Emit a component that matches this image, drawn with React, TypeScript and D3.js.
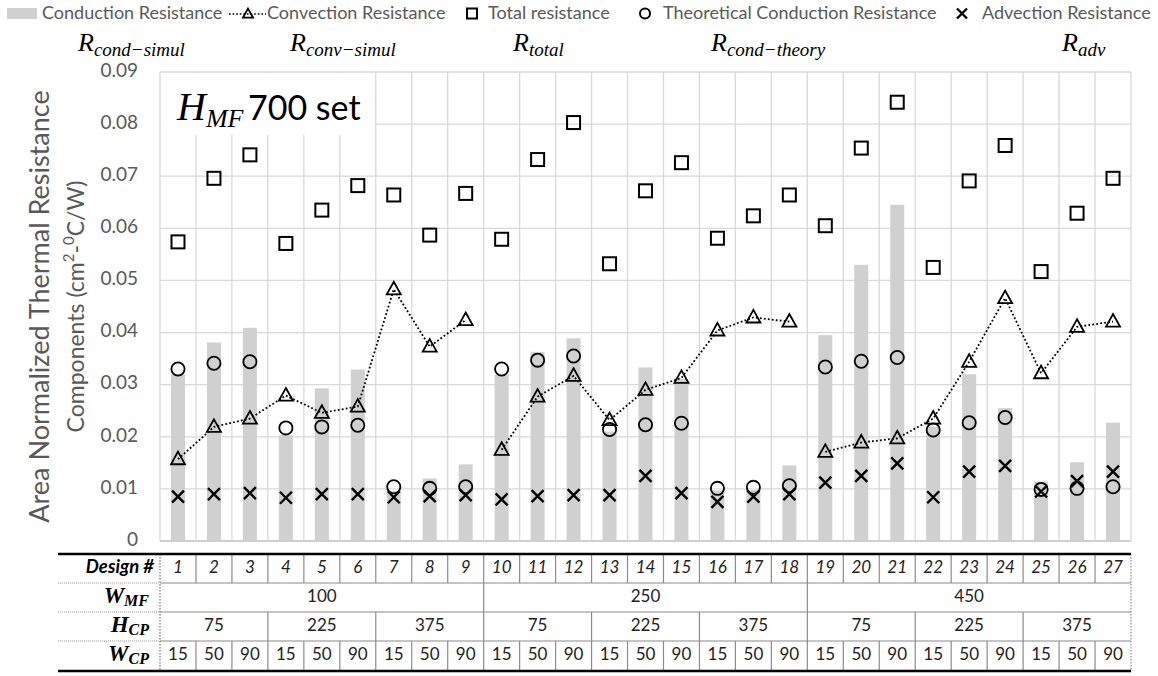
import React from "react";
import * as d3 from "d3";

// values (cm2-C/W)
const designs = d3.range(1, 28).map(String);
const conduction = [
  0.032, 0.0381, 0.0409, 0.0203, 0.0293, 0.0329, 0.0095, 0.012, 0.0147,
  0.0319, 0.0363, 0.0389, 0.021, 0.0333, 0.0311, 0.0097, 0.0098, 0.0145,
  0.0395, 0.053, 0.0645, 0.0219, 0.032, 0.0255, 0.0114, 0.0151, 0.0227,
];
const convection = [
  0.0157, 0.0219, 0.0235, 0.0279, 0.0246, 0.0258, 0.0483, 0.0373, 0.0424,
  0.0175, 0.0277, 0.0317, 0.0232, 0.029, 0.0313, 0.0404, 0.0429, 0.0421,
  0.0171, 0.0189, 0.0197, 0.0235, 0.0344, 0.0466, 0.0322, 0.0411, 0.0421,
];
const total = [
  0.0574, 0.0696, 0.0741, 0.0571, 0.0635, 0.0682, 0.0664, 0.0587, 0.0667,
  0.0579, 0.0732, 0.0803, 0.0532, 0.0672, 0.0726, 0.0581, 0.0624, 0.0664,
  0.0605, 0.0754, 0.0842, 0.0525, 0.0691, 0.0759, 0.0517, 0.0629, 0.0696,
];
const theory = [
  0.033, 0.0341, 0.0344, 0.0217, 0.0219, 0.0222, 0.0104, 0.0101, 0.0104,
  0.033, 0.0347, 0.0355, 0.0214, 0.0223, 0.0226, 0.0101, 0.0103, 0.0106,
  0.0334, 0.0345, 0.0352, 0.0213, 0.0227, 0.0237, 0.0099, 0.0101, 0.0104,
];
const advection = [
  0.0085, 0.009, 0.0092, 0.0083, 0.009, 0.009, 0.0084, 0.0086, 0.0088,
  0.008, 0.0086, 0.0088, 0.0088, 0.0125, 0.0092, 0.0075, 0.0085, 0.009,
  0.0112, 0.0125, 0.0149, 0.0084, 0.0133, 0.0144, 0.0095, 0.0115, 0.0133,
];
const wMF = ["100", "250", "450"];
const hCP = ["75", "225", "375"];
const wCP = ["15", "50", "90"];

const yTicks = d3.range(0, 0.0901, 0.01);

const SANS = "Lato, 'Open Sans', sans-serif";
const SERIF = "'Liberation Serif', 'DejaVu Serif', serif";
const GRAY = "#595959";

const App = () => {
  const width = 1158;
  const height = 676;
  const plot = { left: 160, right: 1131, top: 72, bottom: 541 };
  const table = { left: 58, rows: [554, 583, 612, 641, 671] };

  const x = d3
    .scaleBand<string>()
    .domain(designs)
    .range([plot.left, plot.right]);
  const y = d3.scaleLinear().domain([0, 0.09]).range([plot.bottom, plot.top]);
  const bw = x.bandwidth();
  const cx = (i: number) => (x(designs[i]) as number) + bw / 2;

  // convection line is broken between the three W_MF groups
  const groups = [0, 1, 2].map((g) => d3.range(g * 9, g * 9 + 9));
  const line = d3
    .line<number>()
    .x((i) => cx(i))
    .y((i) => y(convection[i]));

  const rowMid = (r: number) => (table.rows[r] + table.rows[r + 1]) / 2;

  const square = (px: number, py: number, s: number, key?: any) => (
    <rect key={key} x={px - s / 2} y={py - s / 2} width={s} height={s}
      fill="none" stroke="#000" strokeWidth={2} />
  );
  const tri = (px: number, py: number, s: number, key?: any) => {
    const h = s * 0.9;
    return (
      <path key={key}
        d={`M${px},${py - h * 0.6}L${px + s / 2},${py + h * 0.4}L${px - s / 2},${py + h * 0.4}Z`}
        fill="none" stroke="#000" strokeWidth={1.8} />
    );
  };
  const cross = (px: number, py: number, s: number, key?: any) => (
    <path key={key}
      d={`M${px - s / 2},${py - s / 2}L${px + s / 2},${py + s / 2}M${px + s / 2},${py - s / 2}L${px - s / 2},${py + s / 2}`}
      stroke="#000" strokeWidth={2.4} />
  );

  const legendItems = [
    { label: "Conduction Resistance", tx: 42, mark: <rect x={7} y={8} width={30} height={11} fill="#d0d0d0" /> },
    {
      label: "Convection Resistance", tx: 267,
      mark: (
        <g>
          <line x1={229} x2={266} y1={14} y2={14} stroke="#000" strokeWidth={1.6} strokeDasharray="1.6,2" />
          {tri(248, 14, 10)}
        </g>
      ),
    },
    { label: "Total resistance", tx: 488, mark: square(472, 13.5, 10) },
    { label: "Theoretical Conduction Resistance", tx: 663, mark: <circle cx={645} cy={13.5} r={5} fill="none" stroke="#000" strokeWidth={2} /> },
    { label: "Advection Resistance", tx: 982, mark: cross(962, 13.5, 10) },
  ];

  const formulas = [
    { x: 78, sub: "cond−simul" },
    { x: 290, sub: "conv−simul" },
    { x: 513, sub: "total" },
    { x: 711, sub: "cond−theory" },
    { x: 1062, sub: "adv" },
  ];

  const headers = [
    { main: "W", sub: "MF" },
    { main: "H", sub: "CP" },
    { main: "W", sub: "CP" },
  ];

  // spans for table rows 1..3 (in number of columns)
  const rowSpans = [
    { span: 9, labels: wMF },
    { span: 3, labels: hCP },
    { span: 1, labels: wCP },
  ];

  const midY = (plot.top + plot.bottom) / 2;

  return (
    <svg width={width} height={height} style={{ position: "absolute", left: 0, top: 0, background: "#fff" }}>
      {/* legend */}
      {legendItems.map((d) => (
        <g key={d.label}>
          {d.mark}
          <text x={d.tx} y={14} dominantBaseline="middle" fontFamily={SANS} fontSize={18} fill={GRAY}>
            {d.label}
          </text>
        </g>
      ))}

      {/* formula labels */}
      {formulas.map((f) => (
        <text key={f.sub} x={f.x} y={51} fontFamily={SERIF} fontStyle="italic" fontSize={26} fill="#000">
          R<tspan fontSize={19} dy={5}>{f.sub}</tspan>
        </text>
      ))}

      {/* grid */}
      {yTicks.map((t) => (
        <line key={t} x1={plot.left} x2={plot.right} y1={y(t)} y2={y(t)}
          stroke={t === 0 ? "#bfbfbf" : "#d9d9d9"} strokeWidth={1.3} />
      ))}
      {d3.range(designs.length + 1).map((i) => {
        const gx = plot.left + i * bw;
        return <line key={i} x1={gx} x2={gx} y1={plot.top} y2={plot.bottom} stroke="#d9d9d9" strokeWidth={1.3} />;
      })}

      {/* label box */}
      <rect x={161} y={73} width={214} height={62} fill="#fff" />
      <text x={177} y={120} fontFamily={SERIF} fontStyle="italic" fontSize={40} fill="#000">
        H<tspan fontSize={26} dy={7}>MF</tspan>
      </text>
      <text x={248} y={120} fontFamily={SANS} fontSize={34} fill="#000">700 set</text>

      {/* y axis */}
      {yTicks.map((t) => (
        <text key={t} x={138} y={y(t)} textAnchor="end" dominantBaseline="middle"
          fontFamily={SANS} fontSize={19} fill={GRAY}>
          {t === 0 ? "0" : d3.format(".2f")(t)}
        </text>
      ))}
      <g transform={`translate(42,${midY}) rotate(-90)`}>
        <text textAnchor="middle" dominantBaseline="middle" fontFamily={SANS} fontSize={27} fill={GRAY}>
          Area Normalized Thermal Resistance
        </text>
      </g>
      <g transform={`translate(78,${midY}) rotate(-90)`}>
        <text textAnchor="middle" dominantBaseline="middle" fontFamily={SANS} fontSize={23} fill={GRAY}>
          Components (cm<tspan fontSize={15} dy={-8}>2</tspan>
          <tspan dy={8}>-</tspan>
          <tspan fontSize={15} dy={-8}>0</tspan>
          <tspan dy={8}>C/W)</tspan>
        </text>
      </g>

      {/* conduction bars */}
      {conduction.map((v, i) => (
        <rect key={i} x={cx(i) - 7} y={y(v)} width={14} height={y(0) - y(v)} fill="#d0d0d0" />
      ))}

      {/* convection dotted line */}
      {groups.map((g, k) => (
        <path key={k} d={line(g) as string}
          fill="none" stroke="#000" strokeWidth={1.8} strokeDasharray="1.8,2.2" />
      ))}
      {convection.map((v, i) => tri(cx(i), y(v), 14, `t${i}`))}
      {total.map((v, i) => square(cx(i), y(v), 13, `s${i}`))}
      {theory.map((v, i) => (
        <circle key={`c${i}`} cx={cx(i)} cy={y(v)} r={6.6} fill="none" stroke="#000" strokeWidth={1.8} />
      ))}
      {advection.map((v, i) => cross(cx(i), y(v), 12, `x${i}`))}

      {/* table */}
      <g fontFamily={SANS}>
        {/* header column */}
        <text x={154} y={rowMid(0)} textAnchor="end" dominantBaseline="middle" fontSize={18.5}
          fontWeight="bold" fontStyle="italic" fill="#000">
          Design #
        </text>
        {headers.map((h, r) => (
          <text key={r} x={149} y={rowMid(r + 1) + 5} textAnchor="end" fontFamily={SERIF}
            fontWeight="bold" fontStyle="italic" fontSize={23} fill="#000">
            {h.main}<tspan fontSize={16} dy={3}>{h.sub}</tspan>
          </text>
        ))}
        {table.rows.slice(1, 4).map((ry) => (
          <line key={ry} x1={table.left} x2={plot.left} y1={ry} y2={ry} stroke="#999" strokeWidth={1} strokeDasharray="1,1" />
        ))}
        <line x1={plot.left} x2={plot.left} y1={table.rows[0]} y2={table.rows[4]} stroke="#555" strokeWidth={1} strokeDasharray="1.5,1.5" />
        <line x1={plot.right} x2={plot.right} y1={table.rows[0]} y2={table.rows[4]} stroke="#777" strokeWidth={1} strokeDasharray="1.5,1.5" />

        {/* inner horizontal lines */}
        {table.rows.slice(1, 4).map((ry) => (
          <line key={ry} x1={plot.left} x2={plot.right} y1={ry} y2={ry} stroke="#8c8c8c" strokeWidth={1.2} />
        ))}

        {/* design numbers */}
        {designs.map((d, i) => (
          <g key={d}>
            {i > 0 && (
              <line x1={x(d)} x2={x(d)} y1={table.rows[0]} y2={table.rows[1]} stroke="#8c8c8c" strokeWidth={1.2} />
            )}
            <text x={cx(i)} y={rowMid(0)} textAnchor="middle" dominantBaseline="middle" fontSize={17}
              fontStyle="italic" fill="#222">
              {d}
            </text>
          </g>
        ))}

        {/* grouped rows */}
        {rowSpans.map((rs, r) =>
          d3.range(designs.length / rs.span).map((k) => {
            const x0 = plot.left + k * rs.span * bw;
            const x1 = x0 + rs.span * bw;
            return (
              <g key={`${r}-${k}`}>
                {k > 0 && (
                  <line x1={x0} x2={x0} y1={table.rows[r + 1]} y2={table.rows[r + 2]} stroke="#8c8c8c" strokeWidth={1.2} />
                )}
                <text x={(x0 + x1) / 2} y={rowMid(r + 1)} textAnchor="middle" dominantBaseline="middle"
                  fontSize={17} fill="#222">
                  {rs.labels[k % rs.labels.length]}
                </text>
              </g>
            );
          })
        )}

        <line x1={table.left} x2={plot.right} y1={table.rows[0]} y2={table.rows[0]} stroke="#000" strokeWidth={2.5} />
        <line x1={table.left} x2={plot.right} y1={table.rows[4]} y2={table.rows[4]} stroke="#000" strokeWidth={2.5} />
      </g>
    </svg>
  );
};

export default App;
